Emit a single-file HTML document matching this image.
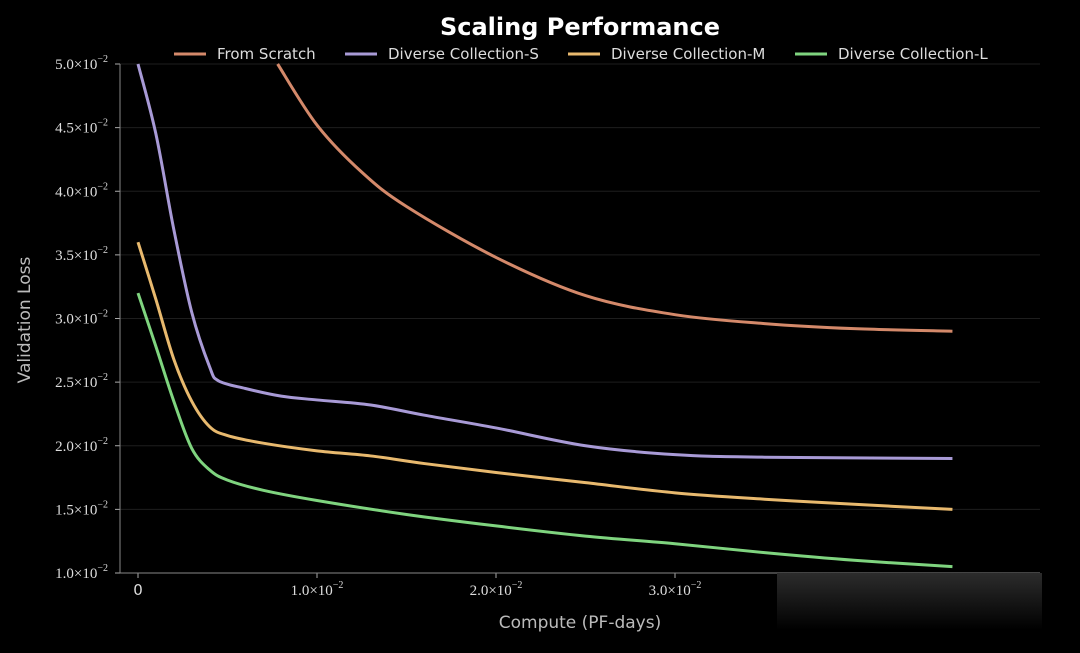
<!DOCTYPE html>
<html><head><meta charset="utf-8"><style>
body{margin:0;background:#000;width:1080px;height:648px;overflow:hidden}
svg text{font-family:"DejaVu Sans","Liberation Sans",sans-serif}
.tk{font-family:"Liberation Serif",serif;font-size:15px;fill:#ddd}
</style></head><body>
<svg id="c" width="1080" height="648">
<defs><linearGradient id="wm" x1="0" y1="0" x2="0" y2="1"><stop offset="0" stop-color="#2c2c2c"/><stop offset="1" stop-color="#000"/></linearGradient></defs>
<text x="580" y="35" text-anchor="middle" fill="#fff" font-size="24" font-weight="bold">Scaling Performance</text>
<g id="grid"></g><g id="axes"></g><g id="series"></g><g id="legend"></g>
<rect x="777" y="573" width="265" height="57" fill="url(#wm)"/>
<text x="580" y="628" text-anchor="middle" fill="#bbb" font-size="17">Compute (PF-days)</text>
<text transform="translate(30,320) rotate(-90)" text-anchor="middle" fill="#bbb" font-size="17">Validation Loss</text>
</svg>
<script>
const yTicks=[0.010,0.015,0.020,0.025,0.030,0.035,0.040,0.045,0.050];
const xTicks=[0,0.01,0.02,0.03,0.04];
const seriesNames=["From Scratch","Diverse Collection-S","Diverse Collection-M","Diverse Collection-L"];
const seriesColors=["#d4896a","#a89ad6","#e8b96e","#7fd47f"];
const scratchX=[0.0078,0.010,0.0125,0.015,0.020,0.025,0.030,0.035,0.040,0.0455];
const scratchY=[0.050,0.0452,0.0415,0.0388,0.0348,0.0318,0.0303,0.0296,0.0292,0.0290];
const sX=[0,0.001,0.002,0.003,0.004,0.0045,0.006,0.008,0.010,0.013,0.016,0.020,0.025,0.030,0.035,0.0455];
const sY=[0.050,0.0445,0.037,0.0305,0.0262,0.0251,0.0245,0.0239,0.0236,0.0232,0.0224,0.0214,0.0200,0.0193,0.0191,0.0190];
const mX=[0,0.001,0.002,0.003,0.004,0.005,0.007,0.010,0.013,0.016,0.020,0.025,0.030,0.035,0.040,0.0455];
const mY=[0.036,0.0315,0.0268,0.0235,0.0215,0.0208,0.0202,0.0196,0.0192,0.0186,0.0179,0.0171,0.0163,0.0158,0.0154,0.0150];
const lX=[0,0.001,0.002,0.003,0.004,0.005,0.007,0.010,0.015,0.020,0.025,0.030,0.035,0.040,0.0455];
const lY=[0.032,0.0278,0.0235,0.0198,0.0181,0.0173,0.0165,0.0157,0.0146,0.0137,0.0129,0.0123,0.0116,0.0110,0.0105];
const xs=v=>138+v*17900, ys=v=>573-(v-0.010)*12725;
const NS="http://www.w3.org/2000/svg";
function mk(t,a,p){const e=document.createElementNS(NS,t);for(const k in a)e.setAttribute(k,a[k]);p.appendChild(e);return e;}
const G=document.getElementById('grid'),A=document.getElementById('axes'),S=document.getElementById('series'),L=document.getElementById('legend');
function lab(v){return v===0?"0":(v*100).toFixed(1)+"×10";}
yTicks.forEach(v=>{const y=ys(v);
 const g=mk('line',{x1:120,x2:1040,y1:y,y2:y,stroke:'#1e1e1e'},G);
 
 
 mk('line',{x1:115,x2:120,y1:y,y2:y,stroke:'#aaa'},A);
 const t=mk('text',{x:108,y:y+5,'text-anchor':'end',class:'tk'},A);t.textContent=lab(v);
 const s=mk('tspan',{dy:-7,'font-size':10},t);s.textContent="−2";
 
 
});
xTicks.forEach(v=>{const x=xs(v);
 mk('line',{x1:x,x2:x,y1:573,y2:578,stroke:'#aaa'},A);
 const t=mk('text',{x:x,y:595,'text-anchor':'middle',class:'tk'},A);t.textContent=lab(v);
 if(v===0){t.setAttribute('font-family','DejaVu Sans');t.setAttribute('font-size','14');t.setAttribute('style','font-family:"DejaVu Sans",sans-serif');}
 else{const s=mk('tspan',{dy:-7,'font-size':10},t);s.textContent="−2";}
 
 
});
mk('line',{x1:120,x2:120,y1:64,y2:573,stroke:'#888'},A);
mk('line',{x1:120,x2:1040,y1:573,y2:573,stroke:'#888'},A);
function path(X,Y){const P=X.map((x,i)=>[xs(x),ys(Y[i])]);let d=`M${P[0][0]},${P[0][1]}`;
 for(let i=0;i<P.length-1;i++){const p0=P[Math.max(i-1,0)],p1=P[i],p2=P[i+1],p3=P[Math.min(i+2,P.length-1)];
  d+=`C${p1[0]+(p2[0]-p0[0])/6},${p1[1]+(p2[1]-p0[1])/6} ${p2[0]-(p3[0]-p1[0])/6},${p2[1]-(p3[1]-p1[1])/6} ${p2[0]},${p2[1]}`;}
 return d;}
const data=[[scratchX,scratchY],[sX,sY],[mX,mY],[lX,lY]];
const ids=['line-from-scratch','line-collection-s','line-collection-m','line-collection-l'];
data.forEach((d,i)=>{const p=mk('path',{d:path(d[0],d[1]),fill:'none',stroke:seriesColors[i],'stroke-width':3},S);
 
 });
const lx=[174,345,568,795];
seriesNames.forEach((n,i)=>{const g=mk('g',{},L);
 
 
 mk('line',{x1:lx[i],x2:lx[i]+32,y1:54,y2:54,stroke:seriesColors[i],'stroke-width':3},g);
 const t=mk('text',{x:lx[i]+43,y:59,fill:'#ddd','font-size':15},g);t.textContent=n;});
</script>
</body></html>
